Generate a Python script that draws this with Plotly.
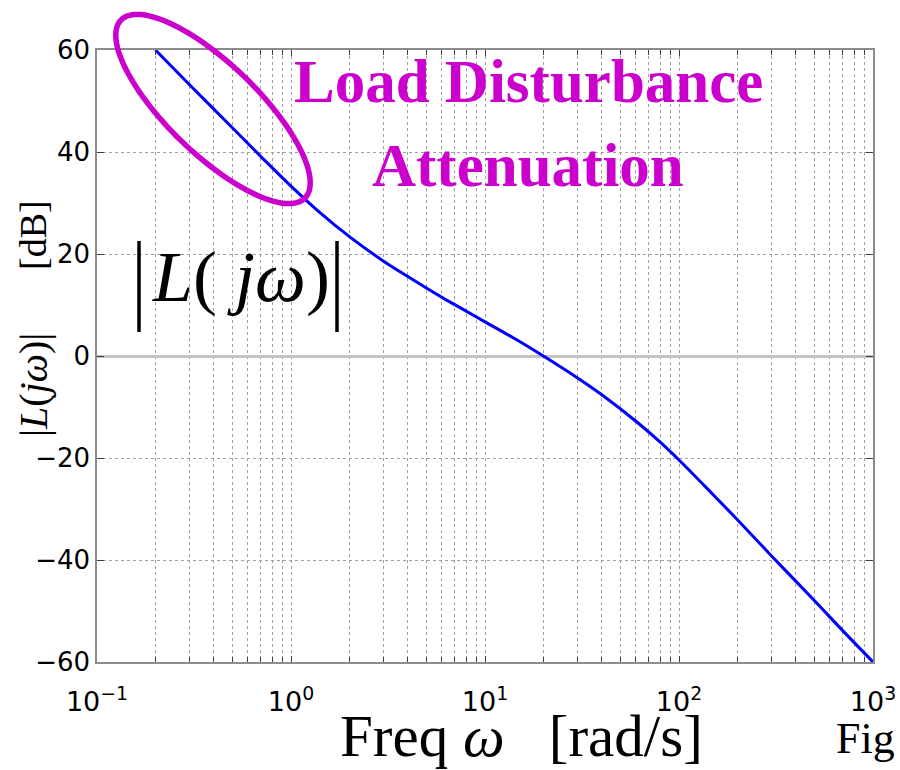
import numpy as np
import plotly.graph_objects as go

# Open-loop gain |L(jw)| in dB versus frequency (rad/s)
omega = [0.2, 0.3, 0.5, 0.7, 1, 1.4, 2, 3, 4, 6, 8, 10, 15, 20, 30, 40, 60, 80,
         100, 150, 200, 300, 500, 700, 1000]
mag_db = [60.0, 53.2, 44.7, 39.1, 33.3, 28.2, 23.4, 18.6, 15.6, 11.5, 8.8, 6.7,
          2.9, 0.0, -4.3, -7.6, -12.8, -16.9, -20.4, -27.2, -32.1, -39.2,
          -48.0, -53.9, -60.0]

x_tick_vals = [0.1, 1, 10, 100, 1000]
x_tick_text = ["10<sup>−1</sup>", "10<sup>0</sup>", "10<sup>1</sup>",
               "10<sup>2</sup>", "10<sup>3</sup>"]
x_minor_vals = [k * 10.0 ** e for e in range(-1, 3) for k in range(2, 10)]
y_tick_vals = [-60, -40, -20, 0, 20, 40, 60]

W, H = 900, 770
ML, MR, MT, MB = 97, 27, 50, 108
PW, PH = W - ML - MR, H - MT - MB

MAGENTA = "#cc00cc"
SERIF = "Liberation Serif"


def px_x(px):
    return (px - ML) / PW


def px_y(py):
    return (H - MB - py) / PH


fig = go.Figure()
fig.add_trace(go.Scatter(x=omega, y=mag_db, mode="lines",
                         line=dict(color="#0000ff", width=3, shape="spline",
                                   smoothing=1.0),
                         hoverinfo="skip", showlegend=False))

grid = dict(showgrid=True, gridcolor="#a0a0a0", griddash="dot", gridwidth=1)
fig.update_xaxes(type="log", range=[-1, 3], tickmode="array", automargin=False,
                 tickvals=x_tick_vals, ticktext=x_tick_text,
                 ticks="inside", ticklen=6, tickcolor="#404040",
                 ticklabelstandoff=15,
                 showline=True, linecolor="#8c8c8c", linewidth=1.5, mirror="ticks",
                 tickfont=dict(family="DejaVu Sans", size=27, color="black"),
                 minor=dict(tickmode="array", tickvals=x_minor_vals, ticks="inside",
                            ticklen=5, tickcolor="#404040", showgrid=True,
                            gridcolor="#a0a0a0", griddash="dot", gridwidth=1),
                 **grid)
fig.update_yaxes(range=[-60, 60], tickmode="array", tickvals=y_tick_vals,
                 automargin=False,
                 ticks="inside", ticklen=7, tickcolor="#404040",
                 showline=True, linecolor="#8c8c8c", linewidth=1.5, mirror="ticks",
                 tickfont=dict(family="DejaVu Sans", size=26, color="black"),
                 zeroline=True, zerolinecolor="#c4c4c4", zerolinewidth=2.5,
                 **grid)

annotations = [
    # highlighted caption
    dict(text="<b>Load Disturbance</b>", x=px_x(528), y=px_y(117), yanchor="bottom",
         font=dict(family=SERIF, size=61, color=MAGENTA)),
    dict(text="<b>Attenuation</b>", x=px_x(528), y=px_y(201), yanchor="bottom",
         font=dict(family=SERIF, size=61, color=MAGENTA)),
    # large magnitude label inside the axes
    dict(text="<i>L</i>( <i>jω</i>)", x=px_x(241), y=px_y(319), yanchor="bottom",
         font=dict(family=SERIF, size=72, color="black")),
    # rotated y-axis title
    dict(text="|<i>L</i>(<i>jω</i>)|", x=px_x(33), y=px_y(385), textangle=-90,
         font=dict(family=SERIF, size=40, color="black")),
    dict(text="[dB]", x=px_x(33), y=px_y(235), textangle=-90,
         font=dict(family=SERIF, size=38, color="black")),
    # x-axis title
    dict(text="Freq <i>ω</i>\u00a0\u00a0\u00a0[rad/s]", x=px_x(338), y=px_y(771),
         xanchor="left", yanchor="bottom",
         font=dict(family=SERIF, size=59, color="black")),
    dict(text="Fig", x=px_x(834), y=px_y(765), xanchor="left", yanchor="bottom",
         font=dict(family=SERIF, size=44, color="black")),
]
for a in annotations:
    a.update(xref="paper", yref="paper", showarrow=False)
    a.setdefault("xanchor", "center")
    a.setdefault("yanchor", "middle")

shapes = []
# tall bars around the large |L(jw)| label
for bx in (139, 337):
    shapes.append(dict(type="line", xref="paper", yref="paper",
                       x0=px_x(bx), x1=px_x(bx), y0=px_y(241), y1=px_y(332),
                       line=dict(color="black", width=3.5)))

# tilted ellipse marking the low-frequency region
cx, cy, ra, rb, tilt = 213, 109, 128, 45, np.deg2rad(44)
t = np.linspace(0, 2 * np.pi, 121)
ex = cx + ra * np.cos(t) * np.cos(tilt) - rb * np.sin(t) * np.sin(tilt)
ey = cy + ra * np.cos(t) * np.sin(tilt) + rb * np.sin(t) * np.cos(tilt)
path = "M " + " L ".join(f"{px_x(a):.5f},{px_y(b):.5f}" for a, b in zip(ex, ey)) + " Z"
shapes.append(dict(type="path", xref="paper", yref="paper", path=path,
                   line=dict(color=MAGENTA, width=5.5)))

fig.update_layout(width=W, height=H, margin=dict(l=ML, r=MR, t=MT, b=MB),
                  plot_bgcolor="white", paper_bgcolor="white",
                  annotations=annotations, shapes=shapes)

fig.write_html("out.html")
